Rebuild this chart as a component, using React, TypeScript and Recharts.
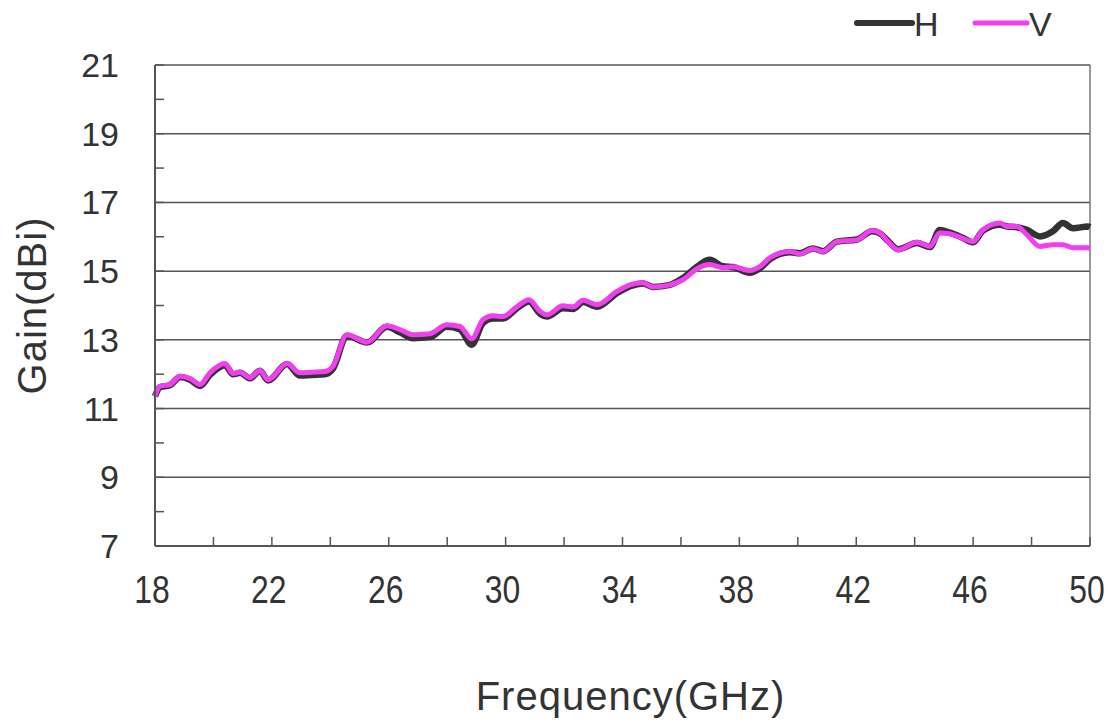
import React from 'react';
import { LineChart, Line, XAxis, YAxis, ReferenceLine } from 'recharts';

// frequency (GHz) and gain (dBi)
const freq = [
  18.0, 18.17, 18.51, 18.86, 19.2, 19.54, 19.88, 20.4, 20.67, 20.91, 21.25, 21.59, 21.87, 22.52,
  22.96, 23.37, 23.82, 24.09, 24.57, 25.26, 25.94, 26.38, 26.83, 27.41, 27.99, 28.44, 28.84, 29.23,
  29.57, 29.91, 30.39, 30.8, 31.18, 31.42, 31.96, 32.31, 32.65, 33.13, 33.81, 34.26, 34.7, 35.04,
  35.62, 36.07, 36.55, 36.99, 37.44, 37.78, 38.36, 38.7, 39.05, 39.73, 40.07, 40.52, 40.86, 41.34,
  42.02, 42.54, 42.81, 43.09, 43.43, 44.08, 44.52, 44.86, 45.2, 45.62, 45.99, 46.34, 46.92, 47.16,
  47.5, 47.84, 48.29, 48.73, 49.07, 49.42, 49.93, 50.0,
];
const gainH = [
  11.36, 11.62, 11.68, 11.92, 11.84, 11.66, 11.98, 12.26, 12.0, 12.04, 11.88, 12.1, 11.82, 12.3,
  11.96, 11.98, 12.0, 12.16, 13.12, 12.92, 13.38, 13.22, 13.05, 13.08, 13.38, 13.3, 12.86, 13.5,
  13.62, 13.62, 13.92, 14.12, 13.76, 13.68, 13.92, 13.9, 14.1, 13.96, 14.36, 14.56, 14.64, 14.54,
  14.6, 14.8, 15.13, 15.33, 15.14, 15.12, 14.95, 15.08, 15.35, 15.55, 15.52, 15.66, 15.58, 15.86,
  15.92, 16.16, 16.1, 15.88, 15.64, 15.82, 15.7, 16.2, 16.12, 15.98, 15.84, 16.18, 16.35, 16.3,
  16.28, 16.2, 16.01, 16.16, 16.4, 16.25, 16.3, 16.28,
];
const gainV = [
  11.36, 11.65, 11.7, 11.94, 11.87, 11.7, 12.04, 12.31, 12.02, 12.06, 11.9, 12.11, 11.84, 12.31,
  12.04, 12.06, 12.08, 12.23, 13.15, 12.93, 13.41, 13.3, 13.15, 13.18, 13.44, 13.39, 13.03, 13.59,
  13.7, 13.68, 13.97, 14.17, 13.83, 13.73, 13.99, 13.96, 14.15, 14.02, 14.41, 14.6, 14.66, 14.54,
  14.6, 14.75, 15.07, 15.19, 15.1, 15.13, 15.02, 15.13, 15.39, 15.57, 15.5, 15.65, 15.57, 15.86,
  15.91, 16.18, 16.11, 15.86, 15.62, 15.84, 15.72, 16.11, 16.09, 15.96, 15.86, 16.2, 16.4, 16.3,
  16.3, 16.06, 15.72, 15.77, 15.77, 15.68, 15.68, 15.66,
];

const xTicks = [18, 20, 22, 24, 26, 28, 30, 32, 34, 36, 38, 40, 42, 44, 46, 48, 50];
const xLabels = [18, 22, 26, 30, 34, 38, 42, 46, 50];
const yTicks = [7, 8, 9, 10, 11, 12, 13, 14, 15, 16, 17, 18, 19, 20, 21];
const yLabels = [7, 9, 11, 13, 15, 17, 19, 21];
const gridLines = [9, 11, 13, 15, 17, 19, 21];

const data = freq.map((f, i) => ({ f, H: gainH[i], V: gainV[i] }));

const H_COLOR = '#333333';
const V_COLOR = '#f03ef0';
const AXIS = '#555555';
const TEXT = '#333333';
const FONT = "'Liberation Sans', Arial, sans-serif";

const XTick = (props: any) => {
  const { x, y, payload } = props;
  const show = xLabels.includes(payload.value);
  return (
    <g>
      <line x1={x} x2={x} y1={y} y2={y - 9} stroke={AXIS} strokeWidth={1.5} />
      {show && (
        // the reference uses a condensed face, so squeeze it horizontally
        <text transform={`translate(${x - 3},${y + 43}) scale(0.84,1)`} textAnchor="middle"
          dominantBaseline="central" fill={TEXT} fontSize={38} fontFamily={FONT}>
          {payload.value}
        </text>
      )}
    </g>
  );
};

const YTick = (props: any) => {
  const { x, y, payload } = props;
  const show = yLabels.includes(payload.value);
  return (
    <g>
      <line x1={x} x2={x + 9} y1={y} y2={y} stroke={AXIS} strokeWidth={1.5} />
      {show && (
        <text x={x - 36} y={y} textAnchor="end" dominantBaseline="central" fill={TEXT}
          fontSize={34} fontFamily={FONT}>
          {payload.value}
        </text>
      )}
    </g>
  );
};

const LegendBox = () => (
  <svg width={240} height={46} style={{ position: 'absolute', left: 841, top: 0 }}>
    <line x1={16} x2={71} y1={23} y2={23} stroke={H_COLOR} strokeWidth={6} strokeLinecap="round" />
    <text x={73} y={24} dominantBaseline="central" fontSize={34} fill={TEXT} fontFamily={FONT}>H</text>
    <line x1={134} x2={186} y1={23} y2={23} stroke={V_COLOR} strokeWidth={5} strokeLinecap="round" />
    <text x={188} y={24} dominantBaseline="central" fontSize={34} fill={TEXT} fontFamily={FONT}>V</text>
  </svg>
);

const App = () => {
  return (
    <div style={{ position: 'absolute', left: 0, top: 0, width: 1108, height: 722, background: '#fff' }}>
      <LineChart width={1108} height={722} data={data}
        margin={{ top: 65, right: 18, bottom: 0, left: 0 }}>
        <XAxis dataKey="f" type="number" domain={[18, 50]} ticks={xTicks} interval={0}
          height={176} tickSize={0} tickMargin={0} tickLine={false}
          axisLine={{ stroke: AXIS, strokeWidth: 2 }} tick={<XTick />}
          label={{
            value: 'Frequency(GHz)', position: 'insideBottom', offset: 12, fontSize: 40, dx: 8,
            letterSpacing: 1, fill: TEXT, fontFamily: FONT,
          }} />
        <YAxis type="number" domain={[7, 21]} ticks={yTicks} interval={0} width={155}
          tickSize={0} tickMargin={0} tickLine={false}
          axisLine={{ stroke: AXIS, strokeWidth: 2 }} tick={<YTick />}
          label={{
            value: 'Gain(dBi)', angle: -90, position: 'insideLeft', offset: 32, fontSize: 40,
            letterSpacing: 1, fill: TEXT, fontFamily: FONT, style: { textAnchor: 'middle' },
          }} />
        {gridLines.map((g) => (
          <ReferenceLine key={g} y={g} stroke={AXIS} strokeWidth={1.5} />
        ))}
        <ReferenceLine x={50} stroke={'#777'} strokeWidth={1.5} />
        <Line type="monotone" dataKey="H" stroke={H_COLOR} strokeWidth={6.5} dot={false}
          isAnimationActive={false} strokeLinejoin="round" />
        <Line type="monotone" dataKey="V" stroke={V_COLOR} strokeWidth={5} dot={false}
          isAnimationActive={false} strokeLinejoin="round" />
      </LineChart>
      <LegendBox />
    </div>
  );
};

export default App;
